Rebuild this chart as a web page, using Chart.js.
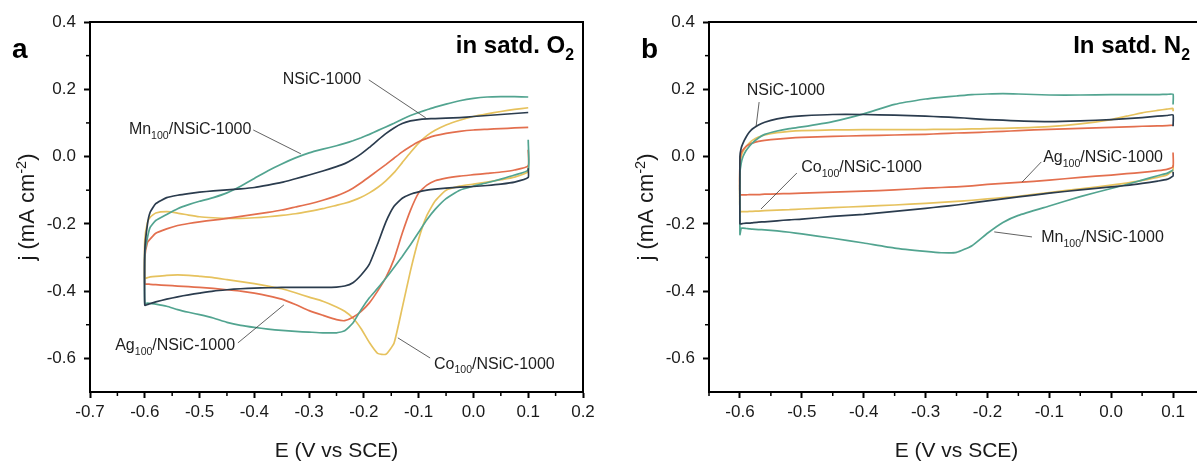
<!DOCTYPE html>
<html>
<head>
<meta charset="utf-8">
<script src="https://cdn.jsdelivr.net/npm/chart.js@4.4.1/dist/chart.umd.min.js"></script>
<style>
    html, body { margin: 0; padding: 0; background: #fff; }
    body { width: 1197px; height: 462px; overflow: hidden; position: relative; }
    #chartA { position: absolute; left: 0; top: 0; }
    #chartB { position: absolute; left: 600px; top: 0; }
</style>
</head>
<body>
<canvas id="chartA" width="600" height="462"></canvas>
<canvas id="chartB" width="620" height="462"></canvas>
<script>
// ---- panel a (in satd. O2) ----
const potentialA = [-0.6, -0.595, -0.59, -0.58, -0.56, -0.54, -0.52, -0.5, -0.475, -0.45, -0.425, -0.4,
    -0.375, -0.35, -0.325, -0.3, -0.275, -0.25, -0.235, -0.22, -0.205, -0.19, -0.175, -0.16, -0.145,
    -0.13, -0.115, -0.1, -0.085, -0.07, -0.05, -0.025, 0, 0.025, 0.05, 0.075, 0.1];

const nsicUpperA = [-0.28, -0.2, -0.165, -0.14, -0.122, -0.115, -0.11, -0.106, -0.102, -0.099, -0.096, -0.092,
    -0.085, -0.077, -0.066, -0.055, -0.043, -0.03, -0.021, -0.008, 0.008, 0.027, 0.048, 0.068, 0.085,
    0.098, 0.106, 0.11, 0.112, 0.113, 0.114, 0.116, 0.119, 0.122, 0.125, 0.128, 0.131];
const nsicLowerA = [-0.442, -0.44, -0.437, -0.432, -0.424, -0.417, -0.411, -0.406, -0.4, -0.396, -0.393, -0.391,
    -0.39, -0.389, -0.389, -0.389, -0.389, -0.388, -0.385, -0.375, -0.352, -0.32, -0.26, -0.195, -0.148,
    -0.124, -0.112, -0.105, -0.1, -0.097, -0.094, -0.091, -0.089, -0.086, -0.082, -0.076, -0.062];

const mnUpperA = [-0.29, -0.24, -0.21, -0.19, -0.172, -0.155, -0.143, -0.133, -0.122, -0.108, -0.088, -0.065,
    -0.042, -0.022, -0.004, 0.011, 0.022, 0.032, 0.039, 0.047, 0.056, 0.066, 0.077, 0.088, 0.099,
    0.111, 0.122, 0.131, 0.139, 0.147, 0.156, 0.166, 0.173, 0.177, 0.178, 0.178, 0.177];
const mnLowerA = [-0.437, -0.436, -0.437, -0.439, -0.445, -0.455, -0.463, -0.47, -0.48, -0.493, -0.502, -0.508,
    -0.513, -0.517, -0.52, -0.522, -0.524, -0.524, -0.518, -0.495, -0.455, -0.42, -0.392, -0.362, -0.33,
    -0.297, -0.262, -0.225, -0.188, -0.157, -0.125, -0.1, -0.088, -0.078, -0.067, -0.055, -0.04];

const agUpperA = [-0.3, -0.255, -0.245, -0.228, -0.215, -0.205, -0.199, -0.194, -0.189, -0.184, -0.178, -0.172,
    -0.166, -0.159, -0.15, -0.141, -0.13, -0.117, -0.107, -0.094, -0.078, -0.06, -0.042, -0.024, -0.005,
    0.014, 0.03, 0.044, 0.054, 0.062, 0.069, 0.075, 0.079, 0.081, 0.083, 0.085, 0.087];
const agLowerA = [-0.379, -0.379, -0.38, -0.381, -0.383, -0.385, -0.387, -0.389, -0.392, -0.396, -0.4, -0.406,
    -0.414, -0.424, -0.44, -0.458, -0.472, -0.485, -0.488, -0.478, -0.46, -0.435, -0.4, -0.36, -0.305,
    -0.228, -0.16, -0.108, -0.085, -0.072, -0.064, -0.058, -0.054, -0.05, -0.046, -0.04, -0.028];

const coUpperA = [-0.25, -0.195, -0.18, -0.168, -0.164, -0.168, -0.174, -0.179, -0.182, -0.184, -0.184, -0.182,
    -0.179, -0.175, -0.17, -0.163, -0.155, -0.145, -0.139, -0.131, -0.121, -0.108, -0.092, -0.072, -0.048,
    -0.018, 0.012, 0.04, 0.062, 0.078, 0.094, 0.108, 0.119, 0.127, 0.134, 0.14, 0.145];
const coLowerA = [-0.362, -0.36, -0.358, -0.356, -0.353, -0.352, -0.353, -0.356, -0.36, -0.366, -0.372, -0.378,
    -0.385, -0.393, -0.405, -0.418, -0.43, -0.447, -0.46, -0.48, -0.512, -0.553, -0.585, -0.588, -0.555,
    -0.45, -0.34, -0.245, -0.175, -0.132, -0.1, -0.088, -0.082, -0.076, -0.069, -0.061, -0.045];

// current at the start (0.1 V) and end of each sweep: NSiC, Mn, Ag, Co
const startA = [-0.035, 0.05, 0.02, -0.025];
const endA = [0.131, 0.177, 0.087, 0.145];

// ---- panel b (in satd. N2) ----
const potentialB = [-0.6, -0.598, -0.595, -0.59, -0.585, -0.58, -0.57, -0.56, -0.54, -0.52, -0.5, -0.45, -0.4,
    -0.35, -0.3, -0.275, -0.25, -0.225, -0.2, -0.175, -0.15, -0.1, -0.05, 0, 0.025, 0.05, 0.075, 0.09, 0.1];

const nsicUpperB = [0, 0.025, 0.04, 0.058, 0.072, 0.082, 0.094, 0.102, 0.112, 0.118, 0.121, 0.125, 0.125,
    0.123, 0.12, 0.118, 0.116, 0.113, 0.11, 0.108, 0.106, 0.104, 0.106, 0.11, 0.113, 0.116, 0.12, 0.122, 0.124];
const nsicLowerB = [-0.2, -0.2, -0.199, -0.198, -0.198, -0.197, -0.195, -0.194, -0.191, -0.188, -0.186, -0.178, -0.172,
    -0.163, -0.154, -0.149, -0.144, -0.138, -0.132, -0.126, -0.12, -0.109, -0.099, -0.09, -0.086, -0.08, -0.073, -0.068, -0.058];

const mnUpperB = [-0.05, -0.02, 0, 0.018, 0.03, 0.04, 0.055, 0.066, 0.076, 0.083, 0.088, 0.104, 0.127,
    0.155, 0.171, 0.176, 0.18, 0.184, 0.186, 0.187, 0.186, 0.183, 0.183, 0.184, 0.184, 0.184, 0.184, 0.185, 0.185];
const mnLowerB = [-0.232, -0.213, -0.213, -0.214, -0.215, -0.216, -0.217, -0.218, -0.221, -0.225, -0.23, -0.243, -0.257,
    -0.272, -0.282, -0.286, -0.285, -0.265, -0.228, -0.196, -0.175, -0.147, -0.119, -0.095, -0.083, -0.07, -0.057, -0.05, -0.04];

const agUpperB = [-0.02, 0.01, 0.02, 0.03, 0.036, 0.04, 0.045, 0.048, 0.052, 0.055, 0.057, 0.06, 0.062,
    0.064, 0.066, 0.068, 0.07, 0.071, 0.073, 0.075, 0.077, 0.081, 0.084, 0.087, 0.088, 0.09, 0.091, 0.092, 0.093];
const agLowerB = [-0.114, -0.114, -0.114, -0.114, -0.113, -0.113, -0.113, -0.112, -0.111, -0.11, -0.109, -0.106, -0.103,
    -0.099, -0.094, -0.092, -0.09, -0.087, -0.083, -0.08, -0.077, -0.07, -0.062, -0.055, -0.051, -0.047, -0.042, -0.038, -0.03];

const coUpperB = [-0.03, 0, 0.015, 0.03, 0.04, 0.048, 0.058, 0.064, 0.071, 0.075, 0.077, 0.079, 0.08,
    0.08, 0.08, 0.081, 0.081, 0.082, 0.083, 0.084, 0.085, 0.089, 0.097, 0.11, 0.12, 0.13, 0.137, 0.141, 0.143];
const coLowerB = [-0.165, -0.164, -0.164, -0.164, -0.163, -0.163, -0.162, -0.161, -0.159, -0.158, -0.156, -0.152, -0.148,
    -0.144, -0.139, -0.136, -0.133, -0.13, -0.126, -0.122, -0.118, -0.107, -0.096, -0.085, -0.079, -0.071, -0.062, -0.055, -0.04];

const startB = [-0.045, -0.04, 0.012, -0.025];
const endB = [0.09, 0.155, 0.093, 0.135];

const xTicksA = [-0.7, -0.6, -0.5, -0.4, -0.3, -0.2, -0.1, 0, 0.1, 0.2];
const xTicksB = [-0.6, -0.5, -0.4, -0.3, -0.2, -0.1, 0, 0.1];
const yTicks = [0.4, 0.2, 0, -0.2, -0.4, -0.6];

const FONT = "'Liberation Sans', Arial, sans-serif";
const seriesColors = ["#2b3c4e", "#52a490", "#e36f4e", "#e6c25e"];
const seriesNames = ["NSiC-1000", "Mn100/NSiC-1000", "Ag100/NSiC-1000", "Co100/NSiC-1000"];

function buildLoop(E, lower, upper, start, end) {
    const last = E.length - 1;
    const pts = [{ x: E[last], y: start }];
    for (let i = last; i >= 0; i--) pts.push({ x: E[i], y: lower[i] });
    for (let i = 0; i <= last; i++) pts.push({ x: E[i], y: upper[i] });
    pts.push({ x: E[last], y: end });
    return pts;
}

function makeDatasets(E, uppers, lowers, starts, ends) {
    return uppers.map((u, k) => ({
        label: seriesNames[k],
        data: buildLoop(E, lowers[k], u, starts[k], ends[k]),
        showLine: true,
        borderColor: seriesColors[k],
        borderWidth: 1.7,
        pointRadius: 0,
        tension: 0.15,
        fill: false,
    }));
}

function fmt(v) {
    if (Math.abs(v) < 1e-9) v = 0;
    return v.toFixed(1);
}

// text with sub/superscripts: parts = [[text, kind]], kind "" | "sub" | "sup"
function richWidth(ctx, parts, size, bold) {
    let w = 0;
    parts.forEach(([t, kind]) => {
        const s = kind ? size * 0.66 : size;
        ctx.font = `${bold ? "bold " : ""}${s}px ${FONT}`;
        w += ctx.measureText(t).width;
    });
    return w;
}

function drawRich(ctx, parts, x, y, size, bold, align) {
    const w = richWidth(ctx, parts, size, bold);
    let cx = align === "right" ? x - w : align === "center" ? x - w / 2 : x;
    ctx.textAlign = "left";
    ctx.textBaseline = "alphabetic";
    parts.forEach(([t, kind]) => {
        const s = kind ? size * 0.66 : size;
        ctx.font = `${bold ? "bold " : ""}${s}px ${FONT}`;
        let dy = 0;
        if (kind === "sub") dy = size * 0.28;
        if (kind === "sup") dy = -size * 0.38;
        ctx.fillText(t, cx, y + dy);
        cx += ctx.measureText(t).width;
    });
}

const labelsA = [
    { parts: [["NSiC-1000", ""]], x: -0.348, y: 0.231, line: [-0.191, 0.228, -0.087, 0.115] },
    { parts: [["Mn", ""], ["100", "sub"], ["/NSiC-1000", ""]], x: -0.629, y: 0.082, line: [-0.402, 0.079, -0.315, 0.008] },
    { parts: [["Ag", ""], ["100", "sub"], ["/NSiC-1000", ""]], x: -0.654, y: -0.56, line: [-0.43, -0.554, -0.346, -0.441] },
    { parts: [["Co", ""], ["100", "sub"], ["/NSiC-1000", ""]], x: -0.072, y: -0.614, line: [-0.079, -0.599, -0.138, -0.539] },
];
const labelsB = [
    { parts: [["NSiC-1000", ""]], x: -0.589, y: 0.198, line: [-0.569, 0.162, -0.574, 0.088] },
    { parts: [["Co", ""], ["100", "sub"], ["/NSiC-1000", ""]], x: -0.501, y: -0.031, line: [-0.508, -0.049, -0.566, -0.156] },
    { parts: [["Ag", ""], ["100", "sub"], ["/NSiC-1000", ""]], x: -0.11, y: -0.001, line: [-0.113, -0.016, -0.144, -0.076] },
    { parts: [["Mn", ""], ["100", "sub"], ["/NSiC-1000", ""]], x: -0.113, y: -0.239, line: [-0.128, -0.239, -0.189, -0.224] },
];

function decorPlugin(cfg) {
    return {
        id: "decor",
        afterDraw(chart) {
            const ctx = chart.ctx;
            const a = chart.chartArea;
            const xs = chart.scales.x;
            const ys = chart.scales.y;
            ctx.save();
            // top and right frame
            ctx.strokeStyle = "#000";
            ctx.lineWidth = 2;
            ctx.beginPath();
            ctx.moveTo(a.left - 1, a.top);
            ctx.lineTo(a.right, a.top);
            ctx.lineTo(a.right, a.bottom + 1);
            ctx.stroke();
            // minor ticks
            ctx.lineWidth = 1.5;
            cfg.xMinor.forEach((v) => {
                const px = xs.getPixelForValue(v);
                ctx.beginPath();
                ctx.moveTo(px, a.bottom);
                ctx.lineTo(px, a.bottom + 4);
                ctx.stroke();
            });
            cfg.yMinor.forEach((v) => {
                const py = ys.getPixelForValue(v);
                ctx.beginPath();
                ctx.moveTo(a.left, py);
                ctx.lineTo(a.left - 4, py);
                ctx.stroke();
            });
            // leader lines and curve labels
            ctx.strokeStyle = "#3a3a3a";
            ctx.lineWidth = 0.8;
            ctx.fillStyle = "#1e1e1e";
            cfg.labels.forEach((l) => {
                ctx.beginPath();
                ctx.moveTo(xs.getPixelForValue(l.line[0]), ys.getPixelForValue(l.line[1]));
                ctx.lineTo(xs.getPixelForValue(l.line[2]), ys.getPixelForValue(l.line[3]));
                ctx.stroke();
                drawRich(ctx, l.parts, xs.getPixelForValue(l.x), ys.getPixelForValue(l.y) + 5.5, 16, false, "left");
            });
            // panel letter and condition
            ctx.fillStyle = "#000";
            ctx.font = `bold 28px ${FONT}`;
            ctx.textAlign = "left";
            ctx.textBaseline = "alphabetic";
            ctx.fillText(cfg.letter, cfg.letterX, 58);
            drawRich(ctx, cfg.title, a.right - cfg.titleInset, 53, 24, true, "right");
            // axis titles
            ctx.fillStyle = "#1a1a1a";
            drawRich(ctx, [["E (V vs SCE)", ""]], (a.left + a.right) / 2, 457, 21, false, "center");
            ctx.translate(a.left - 64, (a.top + a.bottom) / 2);
            ctx.rotate(-Math.PI / 2);
            drawRich(ctx, [["j (mA cm", ""], ["-2", "sup"], [")", ""]], 0, 8, 22, false, "center");
            ctx.restore();
        },
    };
}

function axisOptions(min, max, ticks) {
    return {
        type: "linear",
        min: min,
        max: max,
        afterBuildTicks: (s) => { s.ticks = ticks.map((v) => ({ value: v })); },
        grid: { drawOnChartArea: false, drawTicks: true, tickLength: 6, tickWidth: 2, tickColor: "#000" },
        border: { display: true, color: "#000", width: 2 },
        ticks: {
            font: { family: FONT, size: 17 },
            color: "#1a1a1a",
            padding: 4,
            maxRotation: 0,
            autoSkip: false,
            callback: (v) => fmt(v),
        },
    };
}

function renderPanel(id, datasets, xMin, xMax, xTicks, yAxisWidth, rightPad, cfg) {
    const x = axisOptions(xMin, xMax, xTicks);
    x.afterFit = (s) => { s.height = 70; };
    const y = axisOptions(-0.7, 0.4, yTicks);
    y.afterFit = (s) => { s.width = yAxisWidth; };
    y.ticks.padding = 8;
    return new Chart(document.getElementById(id).getContext("2d"), {
        type: "scatter",
        data: { datasets: datasets },
        options: {
            responsive: false,
            animation: false,
            devicePixelRatio: 1,
            layout: { padding: { top: 22, right: rightPad, left: 0, bottom: 0 } },
            plugins: { legend: { display: false }, tooltip: { enabled: false } },
            scales: { x: x, y: y },
        },
        plugins: [decorPlugin(cfg)],
    });
}

const datasetsA = makeDatasets(potentialA,
    [nsicUpperA, mnUpperA, agUpperA, coUpperA],
    [nsicLowerA, mnLowerA, agLowerA, coLowerA], startA, endA);
const datasetsB = makeDatasets(potentialB,
    [nsicUpperB, mnUpperB, agUpperB, coUpperB],
    [nsicLowerB, mnLowerB, agLowerB, coLowerB], startB, endB);

renderPanel("chartA", datasetsA, -0.7, 0.2, xTicksA, 90, 17, {
    xMinor: [-0.65, -0.55, -0.45, -0.35, -0.25, -0.15, -0.05, 0.05, 0.15],
    yMinor: [0.3, 0.1, -0.1, -0.3, -0.5],
    labels: labelsA,
    letter: "a",
    letterX: 12,
    title: [["in satd. O", ""], ["2", "sub"]],
    titleInset: 9,
});

renderPanel("chartB", datasetsB, -0.65, 0.15, xTicksB, 109, 16, {
    xMinor: [-0.65, -0.55, -0.45, -0.35, -0.25, -0.15, -0.05, 0.05],
    yMinor: [0.3, 0.1, -0.1, -0.3, -0.5],
    labels: labelsB,
    letter: "b",
    letterX: 41,
    title: [["In satd. N", ""], ["2", "sub"]],
    titleInset: 14,
});
</script>
</body>
</html>
